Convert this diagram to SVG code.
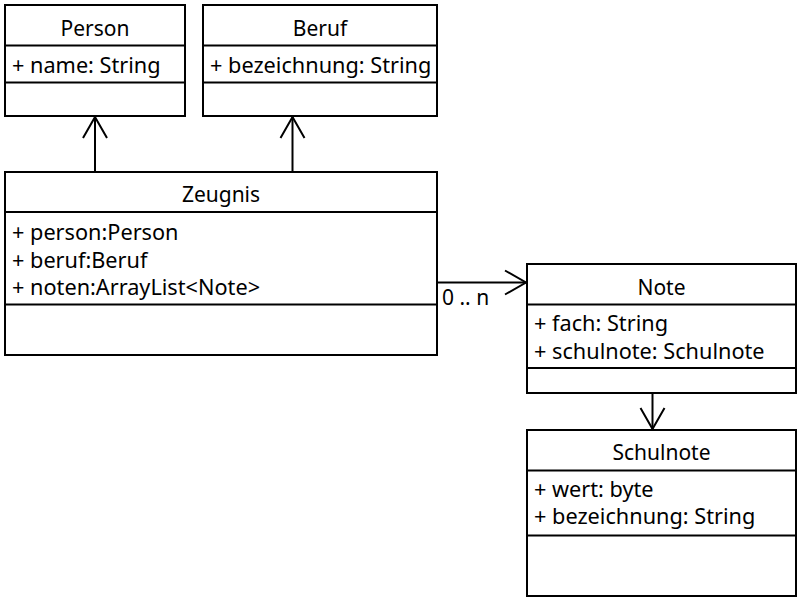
<svg xmlns="http://www.w3.org/2000/svg" width="800" height="600" viewBox="0 0 800 600">
<style>
.box{fill:#fff;stroke:#000;stroke-width:2}
.div{stroke:#000;stroke-width:2}
.t{font-family:"Noto Sans","DejaVu Sans",sans-serif;font-size:21.7px;fill:#000}
.h{font-family:"Noto Sans","DejaVu Sans",sans-serif;font-size:21px;fill:#000;text-anchor:middle}
.edge{stroke:#000;stroke-width:2;fill:none}
</style>
<defs>
<marker id="open" viewBox="0 0 24 28" refX="22" refY="14" markerWidth="24" markerHeight="28" markerUnits="userSpaceOnUse" orient="auto">
<path d="M1,2 L22,14 L1,26" fill="none" stroke="#000" stroke-width="2"/>
</marker>
</defs>
<rect width="800" height="600" fill="#fff"/>
<g id="Person">
<rect class="box" x="5" y="5" width="180" height="111"/>
<line class="div" x1="5" y1="45.5" x2="185" y2="45.5"/>
<line class="div" x1="5" y1="82.5" x2="185" y2="82.5"/>
<text class="h" x="95" y="35.5">Person</text>
<text class="t" x="12" y="73">+ name: String</text>
</g>
<g id="Beruf">
<rect class="box" x="203" y="5" width="234" height="111"/>
<line class="div" x1="203" y1="45.5" x2="437" y2="45.5"/>
<line class="div" x1="203" y1="82.5" x2="437" y2="82.5"/>
<text class="h" x="320" y="35.5">Beruf</text>
<text class="t" x="210" y="73">+ bezeichnung: String</text>
</g>
<g id="Zeugnis">
<rect class="box" x="5" y="172" width="432" height="183"/>
<line class="div" x1="5" y1="212" x2="437" y2="212"/>
<line class="div" x1="5" y1="304.5" x2="437" y2="304.5"/>
<text class="h" x="221" y="201.5">Zeugnis</text>
<text class="t" x="12" y="240">+ person:Person</text>
<text class="t" x="12" y="267.5">+ beruf:Beruf</text>
<text class="t" x="12" y="295">+ noten:ArrayList&lt;Note&gt;</text>
</g>
<g id="Note">
<rect class="box" x="527" y="264" width="269" height="129"/>
<line class="div" x1="527" y1="304.5" x2="796" y2="304.5"/>
<line class="div" x1="527" y1="368" x2="796" y2="368"/>
<text class="h" x="661.5" y="294.5">Note</text>
<text class="t" x="534" y="331">+ fach: String</text>
<text class="t" x="534" y="358.5">+ schulnote: Schulnote</text>
</g>
<g id="Schulnote">
<rect class="box" x="527" y="430" width="269" height="166"/>
<line class="div" x1="527" y1="470.5" x2="796" y2="470.5"/>
<line class="div" x1="527" y1="535.5" x2="796" y2="535.5"/>
<text class="h" x="661.5" y="460">Schulnote</text>
<text class="t" x="534" y="497">+ wert: byte</text>
<text class="t" x="534" y="524">+ bezeichnung: String</text>
</g>
<g id="connectors">
<line class="edge" x1="95" y1="172" x2="95" y2="117" marker-end="url(#open)"/>
<line class="edge" x1="292.5" y1="172" x2="292.5" y2="117" marker-end="url(#open)"/>
<line class="edge" x1="437" y1="282.5" x2="526" y2="282.5" marker-end="url(#open)"/>
<line class="edge" x1="652.5" y1="393" x2="652.5" y2="429" marker-end="url(#open)"/>
<text class="t" x="442" y="305" style="font-size:21px">0 .. n</text>
</g>
</svg>
